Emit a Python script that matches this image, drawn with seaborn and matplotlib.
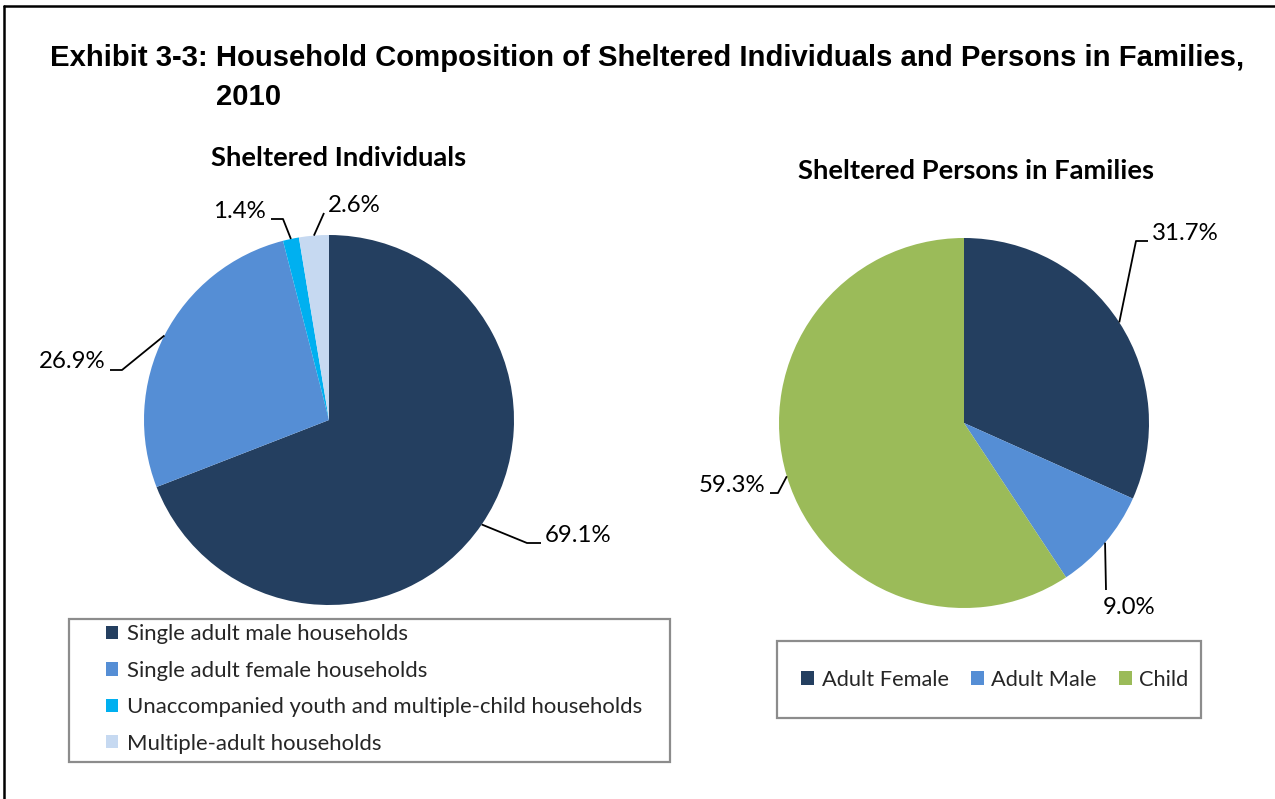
import matplotlib
matplotlib.use("Agg")
import matplotlib.pyplot as plt
from matplotlib.patches import Rectangle
import numpy as np
import seaborn as sns

# ---- data -------------------------------------------------------------
title_line1 = "Exhibit 3-3: Household Composition of Sheltered Individuals and Persons in Families,"
title_line2 = "2010"

ind_title = "Sheltered Individuals"
ind_labels = [
    "Single adult male households",
    "Single adult female households",
    "Unaccompanied youth and multiple-child households",
    "Multiple-adult households",
]
ind_values = [69.1, 26.9, 1.4, 2.6]

fam_title = "Sheltered Persons in Families"
fam_labels = ["Adult Female", "Adult Male", "Child"]
fam_values = [31.7, 9.0, 59.3]

ind_colors = sns.color_palette(["#243F60", "#558ED5", "#00B0F0", "#C6D9F1"])
fam_colors = sns.color_palette(["#243F60", "#558ED5", "#9BBB59"])

# ---- figure -----------------------------------------------------------
W, H = 1275, 799
sns.set_theme(style="white")
plt.rcParams["font.family"] = ["Lato", "DejaVu Sans"]

fig = plt.figure(figsize=(W / 100, H / 100), dpi=100)
ax = fig.add_axes([0, 0, 1, 1])

# Pies drawn in a pixel-like coordinate system (y grows downward), so
# counterclock=True with startangle=-90 runs clockwise from 12 o'clock.
R = 185
c_ind = (329, 420)
c_fam = (964, 423)

w_ind, _ = ax.pie(ind_values, colors=ind_colors, radius=R, center=c_ind,
                  startangle=-90, counterclock=True,
                  wedgeprops=dict(linewidth=0))
w_fam, _ = ax.pie(fam_values, colors=fam_colors, radius=R, center=c_fam,
                  startangle=-90, counterclock=True,
                  wedgeprops=dict(linewidth=0))

ax.set_xlim(0, W)
ax.set_ylim(H, 0)
ax.set_aspect("equal")
ax.axis("off")


def edge_point(wedge):
    mid = np.deg2rad((wedge.theta1 + wedge.theta2) / 2)
    cx, cy = wedge.center
    r = wedge.r
    return cx + r * np.cos(mid), cy + r * np.sin(mid)


# leader-line route (elbows) and text anchor for each slice label
ind_callouts = [
    dict(path=[(527, 543), (541, 543)], xy=(545, 536), ha="left"),
    dict(path=[(122, 370), (110, 370)], xy=(105, 362), ha="right"),
    dict(path=[(283, 219), (271, 219)], xy=(266, 212), ha="right"),
    dict(path=[(324, 213)], xy=(328, 205), ha="left"),
]
fam_callouts = [
    dict(path=[(1136, 241), (1148, 241)], xy=(1152, 233), ha="left"),
    dict(path=[(1106, 590)], xy=(1103, 607), ha="left"),
    dict(path=[(778, 493), (770, 493)], xy=(765, 486), ha="right"),
]


def draw_callouts(wedges, values, callouts):
    for wdg, val, co in zip(wedges, values, callouts):
        x0, y0 = edge_point(wdg)
        xs = [x0] + [p[0] for p in co["path"]]
        ys = [y0] + [p[1] for p in co["path"]]
        ax.plot(xs, ys, color="black", lw=1.3, solid_capstyle="butt")
        ax.text(co["xy"][0], co["xy"][1], f"{val:.1f}%", ha=co["ha"],
                va="center", fontsize=17.3, color="black")


draw_callouts(w_ind, ind_values, ind_callouts)
draw_callouts(w_fam, fam_values, fam_callouts)

# ---- titles -----------------------------------------------------------
title_font = ["Liberation Sans", "DejaVu Sans"]
ax.text(50, 58, title_line1, ha="left", va="center", fontsize=21.1,
        fontweight="bold", family=title_font, color="black")
ax.text(216, 97, title_line2, ha="left", va="center", fontsize=21.1,
        fontweight="bold", family=title_font, color="black")

ax.text(339, 158, ind_title, ha="center", va="center", fontsize=19.7,
        fontweight="bold", color="black")
ax.text(976, 171, fam_title, ha="center", va="center", fontsize=19.7,
        fontweight="bold", color="black")

# ---- legends ----------------------------------------------------------
ax.add_patch(Rectangle((69, 619), 601, 143, fill=False,
                       edgecolor="#8c8c8c", lw=1.6))
ax.add_patch(Rectangle((777, 641), 424, 77, fill=False,
                       edgecolor="#8c8c8c", lw=1.6))

leg1 = ax.legend(w_ind, ind_labels, loc="center left",
                 bbox_to_anchor=(106, 689), bbox_transform=ax.transData,
                 frameon=False, fontsize=15.9, borderpad=0, borderaxespad=0,
                 handlelength=0.55, handleheight=0.55, handletextpad=0.4,
                 labelspacing=0.74)
ax.add_artist(leg1)

leg2 = ax.legend(w_fam, fam_labels, loc="center left",
                 bbox_to_anchor=(801, 680), bbox_transform=ax.transData,
                 frameon=False, fontsize=15.7, borderpad=0, borderaxespad=0,
                 ncol=3, handlelength=0.6, handleheight=0.6,
                 handletextpad=0.35, columnspacing=1.0)

# ---- outer frame (top and left rules) ---------------------------------
ax.plot([4, 4], [H, 6], color="black", lw=1.8, clip_on=False)
ax.plot([4, W], [6, 6], color="black", lw=1.8, clip_on=False)

fig.savefig("out.png", dpi=100, facecolor="white")
